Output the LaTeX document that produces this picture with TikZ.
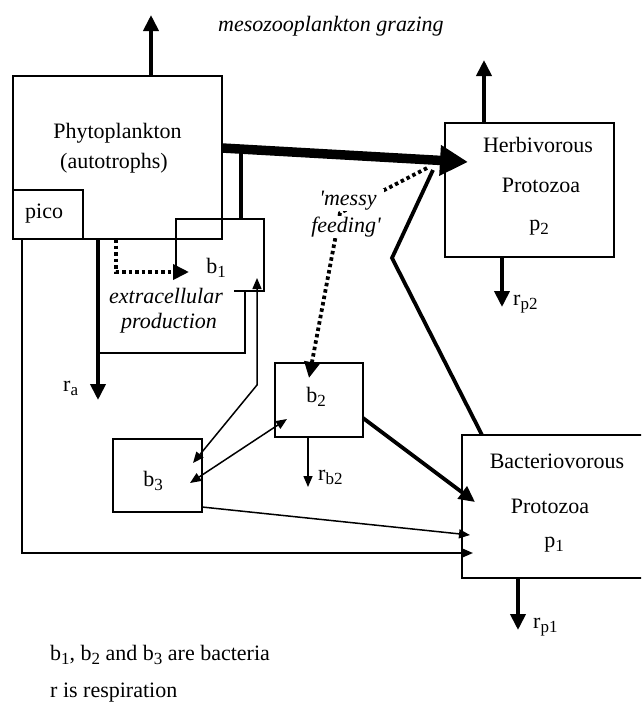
\documentclass[tikz,border=0pt]{standalone}
\usepackage{fontspec}
\setmainfont{Liberation Serif}
\usetikzlibrary{arrows.meta}
\newcommand\mysub[1]{\raisebox{-4.5pt}{\fontsize{17}{18}\selectfont #1}}
\begin{document}
\begin{tikzpicture}[x=1pt,y=-1pt,
  box/.style={draw, line width=1.8pt, inner sep=0pt, outer sep=0pt},
  lbl/.style={inner sep=0pt, font=\fontsize{22}{26}\selectfont, anchor=base},
  lblw/.style={lbl, anchor=base west},
  itl/.style={lbl, font=\fontsize{22}{26}\selectfont\itshape},
  itlw/.style={itl, anchor=base west},
  headbig/.tip={Triangle[length=16pt,width=15pt]},
  headthin/.tip={Triangle[length=11pt,width=9pt]},
  thk/.style={line width=3.8pt, -{headbig}},
  thn/.style={line width=1.5pt, -{headthin}},
  dots/.style={line width=3.8pt, dash pattern=on 3.5pt off 3pt, -{headbig}},
  plain/.style={line width=1.8pt},
]
\useasboundingbox[fill=white] (0,0) rectangle (641,702);

% ---------- boxes ----------
\node[box, minimum width=209pt, minimum height=163pt] (phyto) at (117.5,157.5) {};
\node[box, minimum width=70pt, minimum height=49pt] (pico) at (48,214.5) {};
\node[box, minimum width=169pt, minimum height=134pt] (herb) at (529.5,190) {};
\node[box, minimum width=88pt, minimum height=74pt] (b2) at (319,400) {};
\node[box, minimum width=89pt, minimum height=73pt] (b3) at (157.5,475.5) {};
\begin{scope}
  \clip (0,0) rectangle (641,702);
  \node[box, minimum width=190pt, minimum height=143pt] (p1) at (557,506.5) {};
\end{scope}

% b1 box (open at the bottom left)
\coordinate (b1a) at (176,272);
\coordinate (b1b) at (176,219);
\coordinate (b1c) at (264,219);
\coordinate (b1d) at (264,291);
\coordinate (b1e) at (234,291);
\draw[plain] (b1a) -- (b1b) -- (b1c) -- (b1d) -- (b1e);

% extracellular production loop
\coordinate (ex1) at (245,291);
\coordinate (ex2) at (245,353);
\coordinate (ex3) at (98,353);
\draw[plain] (ex1) -- (ex2) -- (ex3);

% ---------- texts ----------
\node[itlw] (meso) at (218,31) {mesozooplankton grazing};
\node[lbl] (phyt1) at (117.5,138) {Phytoplankton};
\node[lbl] (phyt2) at (114,168) {(autotrophs)};
\node[lblw] (picot) at (25,218) {pico};
\node[lbl] (b1) at (216,273) {b\mysub{1}};
\node[itl] (extra1) at (166,303) {extracellular};
\node[itl] (extra2) at (169,328) {production};
\node[lblw] (ra) at (63,391) {r\mysub{a}};
\node[lbl] (herb1) at (538,152) {Herbivorous};
\node[lbl] (herb2) at (541,192) {Protozoa};
\node[lbl] (herb3) at (539,230) {p\mysub{2}};
\node[lblw] (rp2) at (513,305) {r\mysub{p2}};
\node[lbl] (b2t) at (316,402) {b\mysub{2}};
\node[lbl] (b3t) at (153,486) {b\mysub{3}};
\node[lblw] (rb2) at (318,480) {r\mysub{b2}};
\node[lbl] (p1a) at (557,468) {Bacteriovorous};
\node[lbl] (p1b) at (550,513) {Protozoa};
\node[lbl] (p1c) at (554,547) {p\mysub{1}};
\node[lblw] (rp1) at (533,628) {r\mysub{p1}};
\node[lblw] (leg1) at (50,660) {b\mysub{1}, b\mysub{2} and b\mysub{3} are bacteria};
\node[lblw] (leg2) at (50,697) {r is respiration};

% ---------- connectors ----------
% grazing arrows
\coordinate (graze) at (151,15);
\draw[thk] (phyto.north -| graze) -- (graze);
\coordinate (hgraze) at (484,60);
\draw[thk] (herb.north -| hgraze) -- (hgraze);

% respiration arrows
\coordinate (raT) at (98,400);
\draw[thk] (phyto.south -| raT) -- (raT);
\coordinate (rp2T) at (502,307);
\draw[thk] (herb.south -| rp2T) -- (rp2T);
\coordinate (rp1T) at (518,630);
\draw[thk] (p1.south -| rp1T) -- (rp1T);
\coordinate (rb2T) at (308,487);
\draw[thn] (b2.south -| rb2T) -- (rb2T);

% phytoplankton -> herbivorous protozoa (main flux)
\coordinate (bigS) at (222,148);
\coordinate (bigT) at (468,162);
\draw[line width=9.5pt, -{Triangle[length=28pt,width=29pt]}] (bigS) -- (bigT);
\coordinate (jn) at (241,150);
\draw[line width=3.8pt] (jn) -- (jn |- b1b);

% bacteriovorous -> herbivorous protozoa
\coordinate (zk) at (392,258);
\coordinate (zt) at (433,170);
\draw[line width=3.8pt, line join=miter] (482,435) -- (zk) -- (zt);

% messy feeding (dotted)
\coordinate (m1) at (427,168);
\coordinate (m2) at (340,213);
\coordinate (m3) at (309,378);
\draw[dots] (m1) -- (m2) -- (m3);
\node[itl, fill=white, inner xsep=7pt, inner ysep=1.5pt] (messy1) at (348,205) {\textquotesingle messy};
\node[itl, fill=white, inner sep=1pt] (messy2) at (346,232) {feeding\textquotesingle};

% extracellular production (dotted)
\coordinate (d1) at (116,239);
\coordinate (d2) at (116,272);
\coordinate (d3) at (189,272);
\draw[dots] (d1) -- (d2) -- (d3);

% b1 <-> b3
\coordinate (t1) at (257,278);
\coordinate (t2) at (257,385);
\coordinate (t3) at (193,463);
\draw[line width=1.5pt, {headthin}-{headthin}] (t1) -- (t2) -- (t3);

% b2 <-> b3
\coordinate (u1) at (190,483);
\coordinate (u2) at (287,419);
\draw[line width=1.5pt, {headthin}-{headthin}] (u1) -- (u2);

% b2 -> p1
\coordinate (v1) at (363,418);
\coordinate (v2) at (475,502);
\draw[thk] (v1) -- (v2);

% b3 -> p1
\coordinate (w1) at (202,507);
\coordinate (w2) at (470,535);
\draw[thn] (w1) -- (w2);

% pico -> p1
\coordinate (pk1) at (22,239);
\coordinate (pk2) at (22,553);
\coordinate (pk3) at (473,553);
\draw[line width=1.8pt, -{headthin}] (pk1) -- (pk2) -- (pk3);
\end{tikzpicture}
\end{document}
